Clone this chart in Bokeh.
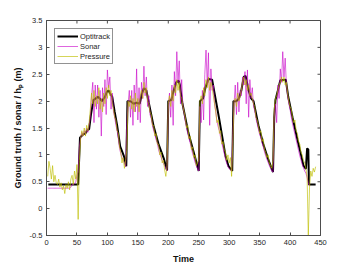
import math
from bokeh.plotting import figure
from bokeh.models import Range1d, FixedTicker, Legend, LegendItem
from bokeh.embed import file_html
from bokeh.resources import INLINE

# ---------------- data ----------------
opti_t = [3, 52, 55, 60, 64, 67, 70, 73, 77, 81, 85, 91, 96, 99, 102, 104, 108, 112, 116, 121, 127, 131,
          133, 138, 143, 148, 153, 157, 160, 164, 168, 176, 184, 193, 198,
          200, 205, 209, 213, 217, 219, 223, 233, 242, 250,
          252, 257, 261, 266, 272, 276, 283, 294, 299, 305,
          307, 312, 316, 320, 324, 327, 332, 336, 340, 348, 356, 364, 372,
          374, 376, 380, 384, 393, 397, 404, 412, 418, 422, 426, 428, 430, 431, 442]
opti_v = [0.45, 0.45, 1.32, 1.38, 1.40, 1.46, 1.48, 1.75, 2.02, 2.05, 2.08, 2.00, 2.08, 2.17, 2.20, 2.15, 2.08, 1.80, 1.55, 1.16, 0.98, 0.79,
          2.00, 2.00, 1.95, 1.97, 1.95, 2.15, 2.24, 2.20, 1.97, 1.53, 1.20, 0.92, 0.71,
          2.00, 2.02, 2.20, 2.35, 2.38, 2.30, 1.97, 1.41, 1.04, 0.70,
          2.00, 2.05, 2.25, 2.41, 2.40, 2.15, 1.71, 0.98, 0.79, 0.70,
          2.00, 2.00, 2.05, 2.20, 2.45, 2.47, 2.20, 2.05, 2.00, 1.55, 1.20, 0.92, 0.68,
          1.70, 2.02, 2.20, 2.39, 2.40, 2.08, 1.70, 1.29, 1.00, 0.80, 0.74, 1.12, 1.10, 0.45, 0.45]

# sonar, sampled every 2 s from t = 2
sonar_v = [0.38, 0.38, 0.38, 0.38, 0.38, 0.38, 0.38, 0.38, 0.38, 0.38,
           0.38, 0.38, 0.38, 0.38, 0.38, 0.38, 0.38, 0.38, 0.38,
           0.40, 0.45, 0.45, 0.46, 0.50, 0.62, 0.68,
           1.15, 1.30, 1.42, 1.35, 1.45, 1.38, 1.50, 1.42, 1.55,
           1.70, 2.10, 2.35, 1.60, 2.30, 1.85, 2.30, 1.70, 2.20, 1.35, 2.25, 1.90, 2.40, 1.75, 2.58, 2.25, 2.45, 1.85, 2.15, 1.80,
           1.70, 1.55, 1.45, 1.30, 1.12, 1.02, 0.95, 0.90, 0.85, 0.78, 1.60,
           1.95, 2.20, 1.70, 2.20, 1.55, 2.30, 1.80, 2.60, 1.65, 2.25, 1.60, 2.35, 2.05, 2.65, 2.10, 2.45, 1.90, 2.10, 1.75,
           1.68, 1.55, 1.45, 1.38, 1.28, 1.22, 1.10, 1.02, 0.96, 0.90, 0.84, 0.80, 0.75, 0.70,
           1.85, 2.15, 1.70, 2.30, 1.55, 2.55, 2.10, 2.92, 2.35, 2.75, 1.95, 2.40, 1.90,
           1.78, 1.62, 1.50, 1.40, 1.30, 1.22, 1.12, 1.02, 0.95, 0.86, 0.80, 0.74, 0.70,
           1.90, 1.60, 2.20, 1.65, 2.50, 2.95, 2.30, 2.90, 1.55, 2.60, 2.20, 2.30, 1.95,
           1.80, 1.62, 1.52, 1.45, 1.32, 1.22, 1.12, 1.02, 0.92, 0.84, 0.78, 0.74, 0.72, 0.70, 1.40,
           1.95, 2.30, 1.75, 2.35, 1.80, 2.20, 2.10, 2.45, 2.30, 2.55, 1.95, 2.58, 1.70, 2.40, 2.05, 2.25, 1.90,
           1.82, 1.68, 1.58, 1.48, 1.38, 1.32, 1.22, 1.15, 1.06, 0.98, 0.92, 0.86, 0.80, 0.75, 0.70, 0.68, 1.70,
           1.95, 1.60, 2.30, 2.05, 2.60, 2.35, 2.92, 2.45, 2.80, 2.30, 2.10,
           1.95, 1.85, 1.70, 1.58, 1.48, 1.38, 1.28, 1.18, 1.08, 0.98, 0.90, 0.82, 0.76, 0.70, 0.66, 0.58, 0.48, 0.42]

# pressure, sampled every 2 s from t = 2
pressure_v = [0.60, 0.88, 0.75, 0.55, 0.80, 0.50, 0.62, 0.48, 0.45, 0.55, 0.40, 0.48, 0.35, 0.42, 0.28, 0.45, 0.38, 0.50, 0.35,
              0.55, 0.62, 0.45, 0.70, 0.55, 0.82, -0.20,
              0.90, 1.30, 1.45, 1.35, 1.50, 1.35, 1.55, 1.45, 1.60,
              1.85, 2.15, 1.95, 2.20, 1.90, 2.10, 1.95, 2.25, 1.85, 2.05, 1.80, 2.15, 1.95, 2.25, 2.05, 2.30, 2.10, 2.20, 1.95, 1.85,
              1.70, 1.65, 1.45, 1.40, 1.15, 1.05, 0.85, 0.95, 0.75, 0.90, 1.10,
              2.00, 1.90, 2.10, 1.85, 2.05, 1.80, 2.15, 1.90, 2.05, 1.80, 2.10, 2.20, 2.05, 2.35, 2.15, 2.25, 2.00, 1.95, 1.80,
              1.75, 1.55, 1.55, 1.35, 1.40, 1.20, 1.20, 1.00, 1.05, 0.85, 0.90, 0.72, 0.60, 0.80,
              1.95, 2.10, 1.90, 2.20, 2.00, 2.30, 2.15, 2.40, 2.20, 2.35, 2.10, 2.05, 1.90,
              1.80, 1.70, 1.50, 1.55, 1.30, 1.35, 1.10, 1.15, 0.95, 1.00, 0.80, 0.85, 0.90,
              2.00, 2.10, 1.95, 2.25, 2.10, 2.40, 2.25, 2.45, 2.20, 2.35, 2.25, 2.10, 1.95,
              1.80, 1.60, 1.65, 1.40, 1.45, 1.20, 1.25, 1.10, 1.05, 0.90, 1.00, 0.85, 0.95, 0.60, 1.20,
              2.00, 2.05, 1.90, 2.15, 2.00, 2.10, 2.20, 2.35, 2.45, 2.30, 2.40, 2.20, 2.30, 2.10, 2.15, 2.05, 1.95,
              1.90, 1.70, 1.65, 1.55, 1.40, 1.45, 1.25, 1.30, 1.10, 1.05, 0.95, 1.00, 0.85, 0.80, 0.75, 0.90, 1.85,
              2.05, 2.10, 2.20, 2.30, 2.35, 2.45, 2.35, 2.45, 2.30, 2.35, 2.15,
              2.00, 1.90, 1.85, 1.70, 1.60, 1.65, 1.45, 1.40, 1.25, 1.20, 1.05, 1.00, 0.90, 0.85, 0.75, 0.60, -0.50,
              0.40, 0.70, 0.60, 0.75, 0.68, 0.78]

sonar_t = list(range(2, 2 + 2 * len(sonar_v), 2))
pressure_t = list(range(2, 2 + 2 * len(pressure_v), 2))

x_ticks = [0, 50, 100, 150, 200, 250, 300, 350, 400, 450]
y_ticks = [-0.5, 0, 0.5, 1, 1.5, 2, 2.5, 3, 3.5]
X0, X1 = 0, 450
Y0, Y1 = -0.5, 3.5

# ---------------- figure ----------------
FONT = "Liberation Sans"
AXC = "#4d4d4d"
TXT = "#262626"

p = figure(width=354, height=266, output_backend="svg", toolbar_location=None,
           x_range=Range1d(X0, X1), y_range=Range1d(Y0, Y1),
           min_border_left=46, min_border_right=34, min_border_top=20, min_border_bottom=29,
           x_axis_label="Time", y_axis_label="Ground truth / sonar / h\u209a (m)")
p.background_fill_color = "white"
p.border_fill_color = "white"
p.grid.visible = False
p.outline_line_color = AXC
p.outline_line_width = 1

for ax in (p.xaxis[0], p.yaxis[0]):
    ax.axis_line_color = AXC
    ax.major_tick_line_color = AXC
    ax.major_tick_in = 3
    ax.major_tick_out = 0
    ax.minor_tick_line_color = None
    ax.major_label_text_font = FONT
    ax.major_label_text_font_size = "7.5px"
    ax.major_label_text_color = TXT
    ax.major_label_standoff = 4
    ax.axis_label_text_font = FONT
    ax.axis_label_text_font_style = "bold"
    ax.axis_label_text_font_size = "9px"
    ax.axis_label_text_color = "#111111"

p.xaxis.ticker = FixedTicker(ticks=x_ticks)
p.yaxis.ticker = FixedTicker(ticks=y_ticks)
p.xaxis.major_label_overrides = {v: f"{v:g}" for v in x_ticks}
p.yaxis.major_label_overrides = {v: f"{v:g}" for v in y_ticks}
p.xaxis.axis_label_standoff = 6
p.yaxis.axis_label_standoff = 4

# inward ticks on the top and right edges of the box (half of each dash is clipped by the frame)
p.scatter(x_ticks, [Y1] * len(x_ticks), marker="dash", size=6, angle=math.pi / 2,
          line_color=AXC, line_width=1)
p.scatter([X1] * len(y_ticks), y_ticks, marker="dash", size=6,
          line_color=AXC, line_width=1)

r_opti = p.line(opti_t, opti_v, line_color="black", line_width=2)
r_sonar = p.line(sonar_t, sonar_v, line_color="#c800c8", line_width=1, line_alpha=0.6)
r_press = p.line(pressure_t, pressure_v, line_color="#bebe00", line_width=1, line_alpha=0.65)

legend = Legend(items=[LegendItem(label="Optitrack", renderers=[r_opti]),
                       LegendItem(label="Sonar", renderers=[r_sonar]),
                       LegendItem(label="Pressure", renderers=[r_press])],
                location="top_left")
legend.margin = 8
legend.padding = 2
legend.spacing = 0
legend.glyph_width = 21
legend.glyph_height = 10
legend.label_height = 10
legend.label_standoff = 2
legend.label_text_font = FONT
legend.label_text_font_size = "7.5px"
legend.label_text_color = TXT
legend.border_line_color = TXT
legend.border_line_width = 1
legend.background_fill_color = "white"
legend.background_fill_alpha = 1
p.add_layout(legend)

open("out.html", "w").write(file_html(p, INLINE))
